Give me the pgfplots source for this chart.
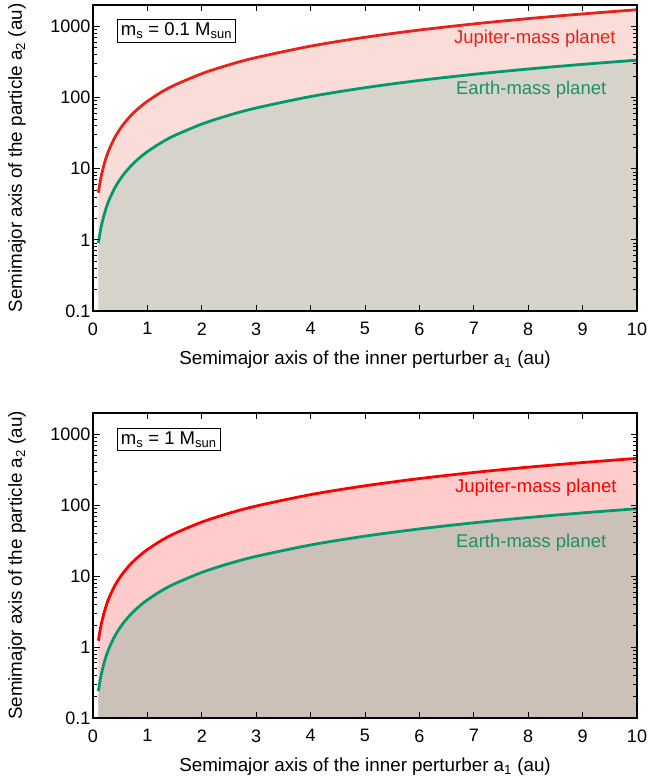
\documentclass[border=0pt]{standalone}
\usepackage{fontspec}
\setmainfont{Liberation Sans}
\usepackage{pgfplots}
\pgfplotsset{compat=1.18}
\usepackage{pgfplotstable}

\definecolor{redT}{HTML}{E6221A}
\definecolor{redB}{HTML}{FF0000}
\definecolor{grnL}{HTML}{009A6E}
\definecolor{grnT}{HTML}{1F9163}
\definecolor{pinkT}{HTML}{FADCD9}
\definecolor{grayT}{HTML}{D6D3CB}
\definecolor{pinkB}{HTML}{FFCCCC}
\definecolor{grayB}{HTML}{CBC1B8}

\pgfplotstableread{
a1   jt     et     jb     eb
0.1  4.60   0.900  1.230  0.240
0.11 5.20   1.017  1.390  0.271
0.12 5.81   1.140  1.555  0.303
0.15 7.75   1.520  2.071  0.404
0.2  11.21  2.190  2.999  0.585
0.25 14.95  2.920  3.996  0.780
0.3  18.89  3.700  5.051  0.986
0.4  27.35  5.350  7.312  1.427
0.5  36.42  7.130  9.738  1.900
0.6  46.05  9.010  12.31  2.402
0.7  56.17  10.99  15.02  2.930
0.8  66.65  13.04  17.82  3.478
0.9  77.56  15.17  20.74  4.046
1.0  88.80  17.38  23.75  4.634
1.25 118.3  23.15  31.64  6.174
1.5  149.6  29.27  40.00  7.805
2    216.6  42.37  57.91  11.30
2.5  288.5  56.44  77.13  15.05
3    364.7  71.35  97.51  19.03
4    528.1  103.3  141.2  27.55
5    703.3  137.6  188.1  36.70
6    889.2  174.0  237.8  46.39
7    1084   212.1  289.9  56.57
8    1287   251.8  344.2  67.15
9    1497   292.9  400.2  78.10
10   1715   335.5  458.5  89.47
}\datatab

\pgfplotsset{myaxis/.style={
  scale only axis, width=544pt,
  xmin=0, xmax=10, ymin=0.1, ymax=2000,
  log origin y=infty,
  xtick={0,1,2,3,4,5,6,7,8,9,10},
  ytick={0.1,1,10,100,1000},
  yticklabels={0.1,1,10,100,1000},
  minor ytick={0.2,0.3,0.4,0.5,0.6,0.7,0.8,0.9,2,3,4,5,6,7,8,9,20,30,40,50,60,70,80,90,200,300,400,500,600,700,800,900},
  tick align=inside, axis on top,
  axis line style={line width=1.2pt},
  major tick length=6.5pt, minor tick length=3.8pt,
  every tick/.style={black, line width=0.8pt},
  tick label style={font=\fontsize{18}{21}\selectfont},
  xticklabel style={yshift=-8pt},
  yticklabel style={xshift=1pt},
  label style={font=\fontsize{18.8}{22}\selectfont},
  /pgf/number format/assume math mode=true,
  xlabel={Semimajor axis of the inner perturber a\textsubscript{1} (au)},
  ylabel={Semimajor axis of the particle a\textsubscript{2} (au)},
  xlabel style={at={(axis description cs:0.5,-0.16)}, anchor=center},
  ylabel style={at={(axis description cs:-0.1397,0.5)}, anchor=center},
}}

\begin{document}
\begin{tikzpicture}
\path[use as bounding box] (-93pt,-63pt) rectangle (559pt,718pt);
% top panel
\begin{semilogyaxis}[myaxis, height=306pt, at={(0,407pt)}, anchor=south west]
\addplot[fill=pinkT, draw=none] table[x=a1,y=jt] {\datatab} \closedcycle;
\addplot[fill=grayT, draw=none] table[x=a1,y=et] {\datatab} \closedcycle;
\addplot[redT, line width=2.8pt, smooth] table[x=a1,y=jt] {\datatab};
\addplot[grnL, line width=2.8pt, smooth] table[x=a1,y=et] {\datatab};
\node[anchor=east, text=redT, font=\fontsize{18.5}{21}\selectfont] at (rel axis cs:0.967,0.889) {Jupiter-mass planet};
\node[anchor=east, text=grnT, font=\fontsize{18.5}{21}\selectfont] at (rel axis cs:0.950,0.722) {Earth-mass planet};
\node[draw, fill=white, anchor=north west, line width=0.8pt, inner sep=3.5pt, font=\fontsize{18.5}{21}\selectfont] at (rel axis cs:0.044,0.954) {m\textsubscript{s} = 0.1 M\textsubscript{sun}};
\end{semilogyaxis}
% bottom panel
\begin{semilogyaxis}[myaxis, height=305pt, at={(0,0)}, anchor=south west]
\addplot[fill=pinkB, draw=none] table[x=a1,y=jb] {\datatab} \closedcycle;
\addplot[fill=grayB, draw=none] table[x=a1,y=eb] {\datatab} \closedcycle;
\addplot[redB, line width=2.8pt, smooth] table[x=a1,y=jb] {\datatab};
\addplot[grnL, line width=2.8pt, smooth] table[x=a1,y=eb] {\datatab};
\node[anchor=east, text=redB, font=\fontsize{18.5}{21}\selectfont] at (rel axis cs:0.969,0.754) {Jupiter-mass planet};
\node[anchor=east, text=grnT, font=\fontsize{18.5}{21}\selectfont] at (rel axis cs:0.950,0.574) {Earth-mass planet};
\node[draw, fill=white, anchor=north west, line width=0.8pt, inner sep=3.5pt, font=\fontsize{18.5}{21}\selectfont] at (rel axis cs:0.044,0.951) {m\textsubscript{s} = 1 M\textsubscript{sun}};
\end{semilogyaxis}
\end{tikzpicture}
\end{document}
